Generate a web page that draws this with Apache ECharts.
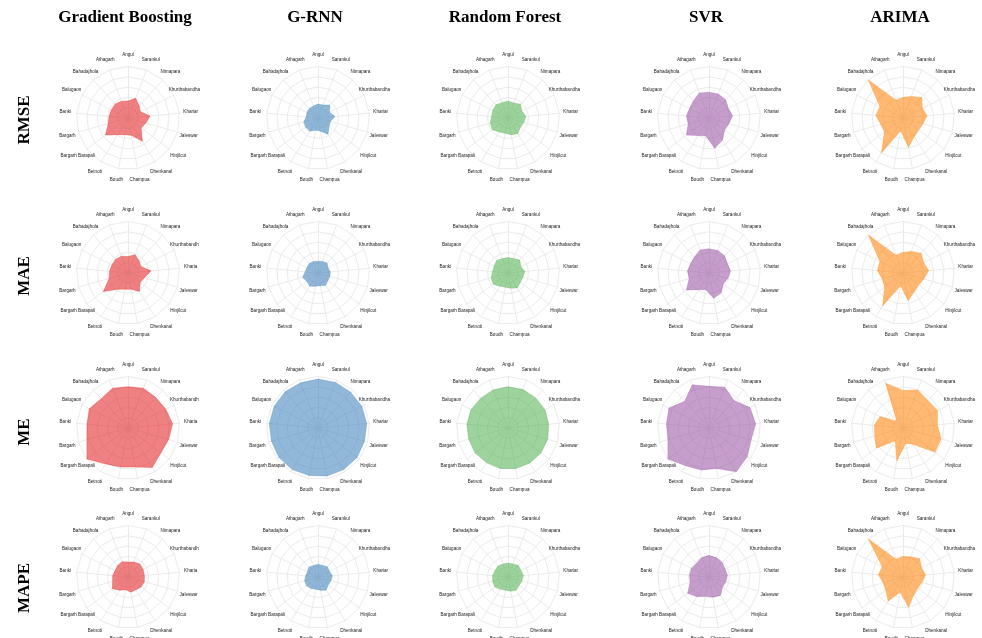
<!DOCTYPE html>
<html>
<head>
<meta charset="utf-8">
<script src="https://cdn.jsdelivr.net/npm/echarts@6/dist/echarts.min.js"></script>
<style>
html,body{margin:0;padding:0;background:#fff;}
#chart{width:982px;height:638px;}
</style>
</head>
<body>
<div id="chart"></div>
<script>
// Indicators (ECharts radar runs counter-clockwise from top)
const categories = ['Angul','Athagarh','Bahadajhola','Balugaon','Banki','Bargarh','Bargarh Barapali','Betnoti','Boudh','Champua','Dhenkanal','Hinjilcut','Jaleswar','Khariar','Khurthabandha','Nimapara','Sarankul'];
const models = ['Gradient Boosting','G-RNN','Random Forest','SVR','ARIMA'];
const metrics = ['RMSE','MAE','ME','MAPE'];

// RMSE (relative to each panel's outer ring)
const gbRMSE    = [0.33,0.35,0.37,0.36,0.37,0.40,0.55,0.38,0.33,0.34,0.53,0.32,0.36,0.43,0.27,0.32,0.41];
const grnnRMSE  = [0.27,0.25,0.25,0.24,0.23,0.29,0.30,0.30,0.24,0.26,0.37,0.27,0.25,0.33,0.25,0.34,0.27];
const rfRMSE    = [0.33,0.32,0.35,0.33,0.32,0.36,0.38,0.32,0.30,0.33,0.36,0.30,0.32,0.35,0.30,0.36,0.31];
const svrRMSE   = [0.50,0.52,0.45,0.42,0.44,0.42,0.55,0.40,0.35,0.60,0.50,0.38,0.40,0.46,0.42,0.48,0.50];
const arimaRMSE = [0.40,0.37,1.00,0.50,0.53,0.45,0.45,0.80,0.25,0.58,0.42,0.38,0.40,0.47,0.42,0.54,0.45];

// MAE
const gbMAE    = [0.32,0.35,0.36,0.35,0.36,0.38,0.60,0.37,0.32,0.32,0.42,0.30,0.33,0.45,0.28,0.32,0.38];
const grnnMAE  = [0.23,0.24,0.25,0.24,0.25,0.31,0.27,0.30,0.26,0.25,0.28,0.24,0.24,0.24,0.22,0.26,0.24];
const rfMAE    = [0.30,0.30,0.33,0.30,0.30,0.34,0.36,0.30,0.28,0.30,0.34,0.30,0.30,0.33,0.28,0.34,0.30];
const svrMAE   = [0.47,0.48,0.42,0.40,0.42,0.40,0.55,0.38,0.33,0.50,0.45,0.35,0.38,0.42,0.40,0.45,0.47];
const arimaMAE = [0.40,0.37,1.00,0.50,0.50,0.42,0.45,0.75,0.25,0.55,0.42,0.38,0.42,0.50,0.45,0.52,0.45];

// ME
const gbME    = [0.80,0.83,0.77,0.84,0.80,0.83,1.00,0.82,0.77,0.77,0.90,0.80,0.82,0.87,0.82,0.80,0.83];
const grnnME  = [0.95,0.94,0.95,0.95,0.95,0.94,0.95,0.95,0.94,0.95,0.95,0.95,0.94,0.95,0.95,0.94,0.95];
const rfME    = [0.80,0.79,0.78,0.80,0.80,0.79,0.80,0.79,0.80,0.80,0.80,0.80,0.80,0.79,0.80,0.79,0.80];
const svrME   = [0.81,0.90,0.70,0.87,0.83,0.83,1.00,0.86,0.83,0.80,1.00,0.93,0.85,0.91,0.89,0.72,0.85];
const arimaME = [0.73,0.93,0.18,0.50,0.56,0.57,0.65,0.29,0.65,0.30,0.37,0.78,0.77,0.67,0.75,0.72,0.79];

// MAPE
const gbMAPE    = [0.29,0.32,0.30,0.28,0.30,0.31,0.38,0.30,0.25,0.30,0.29,0.32,0.33,0.32,0.33,0.34,0.31];
const grnnMAPE  = [0.25,0.24,0.26,0.23,0.24,0.27,0.28,0.26,0.24,0.26,0.30,0.25,0.26,0.28,0.25,0.27,0.24];
const rfMAPE    = [0.27,0.27,0.29,0.28,0.30,0.31,0.32,0.28,0.26,0.28,0.30,0.27,0.28,0.30,0.28,0.30,0.27];
const svrMAPE   = [0.42,0.40,0.36,0.38,0.38,0.38,0.52,0.45,0.38,0.40,0.42,0.33,0.34,0.36,0.35,0.38,0.40];
const arimaMAPE = [0.40,0.37,1.00,0.45,0.48,0.40,0.42,0.55,0.30,0.60,0.40,0.36,0.38,0.44,0.40,0.48,0.42];

const grid = [
  [gbRMSE, grnnRMSE, rfRMSE, svrRMSE, arimaRMSE],
  [gbMAE,  grnnMAE,  rfMAE,  svrMAE,  arimaMAE],
  [gbME,   grnnME,   rfME,   svrME,   arimaME],
  [gbMAPE, grnnMAPE, rfMAPE, svrMAPE, arimaMAPE]
];

const colors = ['#e41a1c','#377eb8','#4daf4a','#984ea3','#ff7f00'];
const colX = [128, 318, 508, 709, 903];
const rowY = [118, 273, 428, 577];
const R = 51.5;

// names clipped at the right edge of the first column's lower panels
const clipped = {'Khurthabandha':'Khurthabandh','Khariar':'Kharia'};

const radars = [], series = [];
for (let r = 0; r < 4; r++) {
  for (let c = 0; c < 5; c++) {
    const idx = radars.length;
    const names = categories.map(n => (c === 0 && r > 0 && clipped[n]) ? clipped[n] : n);
    radars.push({
      center: [colX[c], rowY[r]],
      radius: R,
      startAngle: 90,
      splitNumber: 5,
      shape: 'polygon',
      nameGap: 11.5,
      indicator: names.map(n => ({name: n, max: 1, min: 0})),
      axisName: {color: '#222', fontSize: 4.6, fontFamily: 'Liberation Sans, Arial, sans-serif', align: 'center', verticalAlign: 'middle'},
      splitLine: {lineStyle: {color: '#e4e4e4', width: 0.8}},
      splitArea: {show: false},
      axisLine: {lineStyle: {color: '#e4e4e4', width: 0.8}},
      axisTick: {show: false},
      axisLabel: {show: false}
    });
    series.push({
      type: 'radar',
      radarIndex: idx,
      symbol: 'none',
      silent: true,
      animation: false,
      lineStyle: {color: colors[c], width: 0.6, opacity: 0.5},
      areaStyle: {color: colors[c], opacity: 0.55},
      data: [{value: grid[r][c], name: models[c] + ' ' + metrics[r]}]
    });
  }
}

const graphics = [];
models.forEach((m, c) => {
  graphics.push({type: 'text', x: colX[c] - 3, y: 18,
    style: {text: m, font: 'bold 17px "Liberation Serif", "Times New Roman", serif', fill: '#000', textAlign: 'center', textVerticalAlign: 'middle'}});
});
const rowLabelY = [120, 276, 432, 588];
metrics.forEach((m, r) => {
  graphics.push({type: 'text', x: 25, y: rowLabelY[r], rotation: Math.PI / 2,
    style: {text: m, font: 'bold 17px "Liberation Serif", "Times New Roman", serif', fill: '#000', textAlign: 'center', textVerticalAlign: 'middle'}});
});

const chart = echarts.init(document.getElementById('chart'), null, {renderer: 'canvas'});
chart.setOption({
  backgroundColor: '#fff',
  animation: false,
  radar: radars,
  series: series,
  graphic: graphics
});
</script>
</body>
</html>
